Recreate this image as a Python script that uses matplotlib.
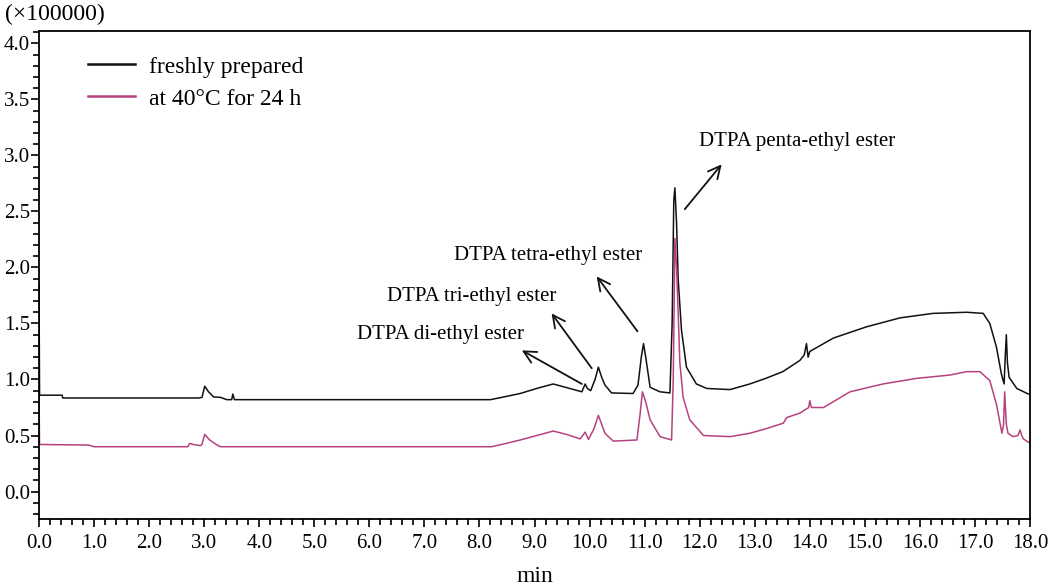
import matplotlib
matplotlib.use("Agg")
import matplotlib.pyplot as plt
from matplotlib.ticker import MultipleLocator, FormatStrFormatter

# ---- data ----
fresh_time = [0.0, 0.01, 0.42, 0.43, 2.9, 2.96, 3.01, 3.08, 3.17, 3.3, 3.41, 3.5, 3.52, 3.55,
              8.2, 8.4, 8.74, 9.04, 9.34, 9.64, 9.86, 9.92, 9.96, 10.02, 10.10, 10.16, 10.22,
              10.28, 10.40, 10.79, 10.88, 10.94, 10.98, 11.02, 11.10, 11.28, 11.46, 11.50,
              11.53, 11.55, 11.58, 11.61, 11.67, 11.76, 11.94, 12.13, 12.55, 12.91, 13.2,
              13.51, 13.82, 13.90, 13.94, 13.97, 14.0, 14.43, 15.03, 15.64, 16.24, 16.85,
              17.15, 17.27, 17.39, 17.48, 17.53, 17.55, 17.57, 17.59, 17.62, 17.76, 17.97, 18.0]
fresh_signal = [1.86, 0.86, 0.86, 0.835, 0.835, 0.84, 0.94, 0.89, 0.845, 0.84, 0.82, 0.82, 0.87, 0.82,
                0.82, 0.84, 0.875, 0.92, 0.96, 0.92, 0.89, 0.96, 0.92, 0.90, 1.00, 1.11, 1.02,
                0.95, 0.88, 0.875, 0.95, 1.20, 1.32, 1.20, 0.93, 0.89, 0.88, 1.50,
                2.60, 2.71, 2.40, 1.89, 1.44, 1.11, 0.96, 0.92, 0.91, 0.96, 1.01,
                1.07, 1.17, 1.22, 1.32, 1.20, 1.25, 1.37, 1.47, 1.55, 1.59, 1.60,
                1.59, 1.50, 1.29, 1.05, 0.96, 1.20, 1.40, 1.15, 1.02, 0.92, 0.87, 0.87]

aged_time = [0.0, 0.01, 0.9, 1.0, 2.7, 2.74, 2.8, 2.93, 2.96, 3.01, 3.1, 3.25, 3.3,
             8.22, 8.49, 8.74, 9.04, 9.34, 9.58, 9.83, 9.92, 9.98, 10.08, 10.16, 10.22,
             10.28, 10.43, 10.86, 10.92, 10.96, 11.02, 11.10, 11.28, 11.49, 11.52, 11.55,
             11.58, 11.61, 11.64, 11.70, 11.82, 12.07, 12.55, 12.91, 13.2, 13.52, 13.58,
             13.82, 13.98, 14.0, 14.03, 14.25, 14.73, 15.33, 15.94, 16.55, 16.85, 17.09,
             17.27, 17.39, 17.49, 17.52, 17.54, 17.57, 17.60, 17.69, 17.78, 17.82, 17.85,
             17.88, 17.97, 18.0]
aged_signal = [0.86, 0.42, 0.415, 0.40, 0.40, 0.43, 0.42, 0.41, 0.42, 0.51, 0.46, 0.41, 0.40,
               0.40, 0.43, 0.46, 0.50, 0.54, 0.51, 0.47, 0.53, 0.465, 0.56, 0.68, 0.60,
               0.52, 0.45, 0.46, 0.70, 0.89, 0.80, 0.64, 0.49, 0.46, 1.00, 2.26,
               2.00, 1.59, 1.15, 0.84, 0.64, 0.50, 0.49, 0.52, 0.56, 0.61, 0.66,
               0.70, 0.75, 0.81, 0.75, 0.75, 0.89, 0.96, 1.01, 1.04, 1.07, 1.07,
               0.99, 0.78, 0.52, 0.60, 0.89, 0.60, 0.52, 0.49, 0.50, 0.55, 0.50,
               0.47, 0.44, 0.44]

series_labels = ["freshly prepared", "at 40\u00b0C for 24 h"]
peak_labels = ["DTPA di-ethyl ester", "DTPA tri-ethyl ester",
               "DTPA tetra-ethyl ester", "DTPA penta-ethyl ester"]

# ---- plotting ----
plt.rcParams['font.family'] = ['Liberation Serif', 'DejaVu Serif']
fig = plt.figure(figsize=(10.5, 5.87), dpi=100)
ax = fig.add_axes([39/1050, 1-519/587, (1030-39)/1050, (519-31)/587])

black = "#111111"
pink = "#B5427F"
ax.plot(fresh_time, fresh_signal, color=black, lw=1.1, label=series_labels[0])
ax.plot(aged_time, aged_signal, color=pink, lw=1.1, label=series_labels[1])

ax.set_xlim(0, 18)
ax.set_ylim(-0.245, 4.11)
ax.xaxis.set_major_locator(MultipleLocator(1.0))
ax.xaxis.set_minor_locator(MultipleLocator(0.2))
ax.yaxis.set_major_locator(MultipleLocator(0.5))
ax.yaxis.set_minor_locator(MultipleLocator(0.1))
ax.xaxis.set_major_formatter(FormatStrFormatter('%.1f'))
ax.yaxis.set_major_formatter(FormatStrFormatter('%.1f'))
ax.tick_params(which='major', direction='out', length=6, width=1.2, labelsize=15)
ax.tick_params(axis='y', which='major', pad=0.5)
ax.tick_params(axis='x', which='major', pad=5)
ax.tick_params(which='minor', direction='out', length=4, width=1.2)
for s in ax.spines.values():
    s.set_linewidth(1.3)

ax.set_xlabel("min", fontsize=17, labelpad=9)
fig.text(55/1050, 1-14/587, "(\u00d7100000)", fontsize=17, ha='center', va='center')

leg = ax.legend(loc='upper left', bbox_to_anchor=(88/1050, 1-56/587),
                bbox_transform=fig.transFigure, frameon=False, fontsize=17,
                handlelength=2.0, handletextpad=0.6, labelspacing=0.45,
                borderpad=0, borderaxespad=0)
for h in leg.get_lines():
    h.set_linewidth(1.8)

# annotations: (text center, arrow tail on peak, arrow head)
ann = [((7.30, 1.40), (9.86, 0.96), (8.77, 1.26)),
       ((7.86, 1.74), (10.04, 1.10), (9.31, 1.59)),
       ((9.24, 2.11), (10.87, 1.43), (10.13, 1.92)),
       ((13.77, 3.12), (11.73, 2.52), (12.40, 2.92))]
for lab, (tpos, tail, head) in zip(peak_labels, ann):
    ax.text(tpos[0], tpos[1], lab, fontsize=15, ha='center', va='center')
    ax.annotate("", xy=head, xytext=tail,
                arrowprops=dict(arrowstyle='->', color=black, lw=1.3,
                                mutation_scale=22, shrinkA=0, shrinkB=0))

fig.savefig("out.png", dpi=100)
